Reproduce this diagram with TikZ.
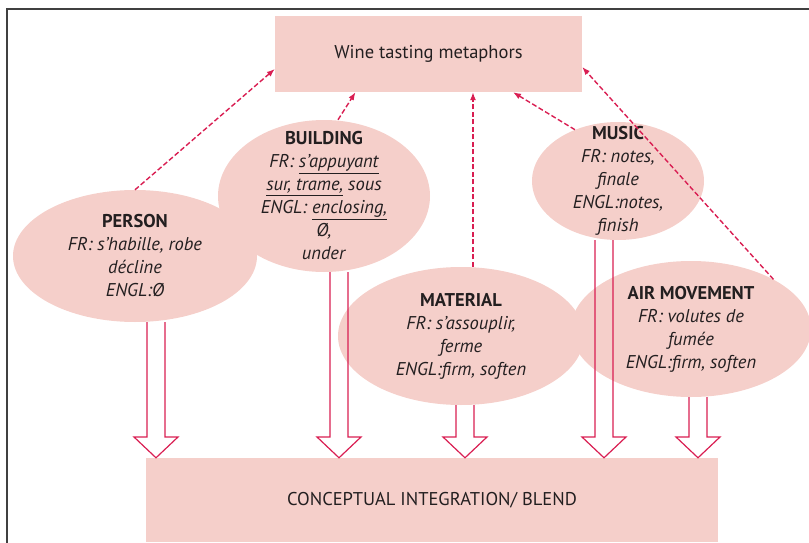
\documentclass[tikz,border=0pt]{standalone}
\usepackage{fontspec}
\setmainfont{PT Sans}
\usetikzlibrary{shapes.geometric,arrows.meta}

\definecolor{blush}{HTML}{F5CFCA}
\definecolor{crimson}{HTML}{D91E52}
\definecolor{ink}{HTML}{231F20}

% open double arrow from a source domain down to the blend box
\newcommand{\blendarrow}[2]{%
  \draw[hollow] (#2-9,0 |- #1.south) -- (#2-9,437) -- (#2-22,437) -- (#2,0 |- blend.north)
    -- (#2+22,437) -- (#2+9,437) -- (#2+9,0 |- #1.south);
}

\begin{document}
\begin{tikzpicture}[x=1pt,y=-1pt,
    every node/.style={inner sep=0pt, text=ink},
    box/.style={rectangle, fill=blush, font=\fontsize{18.5}{22}\selectfont},
    srcblob/.style={ellipse, fill=blush},
    txt/.style={align=center, font=\fontsize{18.5}{23}\selectfont},
    link/.style={crimson, line width=1.4pt, dash pattern=on 5pt off 2.5pt, -{Latex[length=8pt,width=6pt]}},
    hollow/.style={crimson, line width=1.2pt, line join=miter}]
    \useasboundingbox (0,0) rectangle (809,543);
    \clip (0,0) rectangle (809,543);
    \draw [black!75, line width=1.5pt] (7,543) -- (7,9) -- (809,9);

    \node [box, minimum width=307pt, minimum height=76pt] (top) at (428.5,54) {Wine tasting metaphors};
    \node [box, minimum width=572pt, minimum height=84pt] (blend) at (432,500) {CONCEPTUAL INTEGRATION/ BLEND};

    \node [srcblob, minimum width=244pt, minimum height=132pt] (person) at (135,256)
        [label={[txt]center:{\textbf{PERSON}\\\textit{FR: s’habille, robe}\\\textit{décline}\\\textit{ENGL:Ø}}}] {};
    \node [srcblob, minimum width=212pt, minimum height=152pt] (building) at (324,196)
        [label={[txt]center:{\textbf{BUILDING}\\\textit{FR: \underline{s’appuyant}}\\\textit{\underline{sur, trame,} sous}\\\textit{ENGL: \underline{enclosing,}}\\\textit{Ø,}\\\textit{under}}}] {};
    \node [srcblob, minimum width=246pt, minimum height=138pt] (material) at (461,336)
        [label={[txt]center:{\textbf{MATERIAL}\\\textit{FR: s’assouplir,}\\\textit{ferme}\\\textit{ENGL:firm, soften}}}] {};
    \node [srcblob, minimum width=172pt, minimum height=118pt] (music) at (618,181)
        [label={[txt]center:{\textbf{MUSIC}\\\textit{FR: notes,}\\\textit{finale}\\\textit{ENGL:notes,}\\\textit{finish}}}] {};
    \node [srcblob, minimum width=240pt, minimum height=136pt] (air) at (691,329)
        [label={[txt]center:{\textbf{AIR MOVEMENT}\\\textit{FR: volutes de}\\\textit{fumée}\\\textit{ENGL:firm, soften}}}] {};

    % dashed links up to the metaphors box
    \draw [link] (person.north) -- ([yshift=-15pt]top.west);
    \draw [link] ([xshift=14pt]building.north) -- ([xshift=-73pt]top.south);
    \draw [link] ([xshift=12pt]material.north) -- ([xshift=44.5pt]top.south);
    \draw [link] (music.130) -- ([xshift=84.5pt]top.south);
    \draw [link] (air.31) -- ([yshift=-13pt]top.east);

    % blend arrows
    \blendarrow{person}{156}
    \blendarrow{building}{339}
    \blendarrow{material}{465}
    \blendarrow{music}{604}
    \blendarrow{air}{698}
\end{tikzpicture}
\end{document}
